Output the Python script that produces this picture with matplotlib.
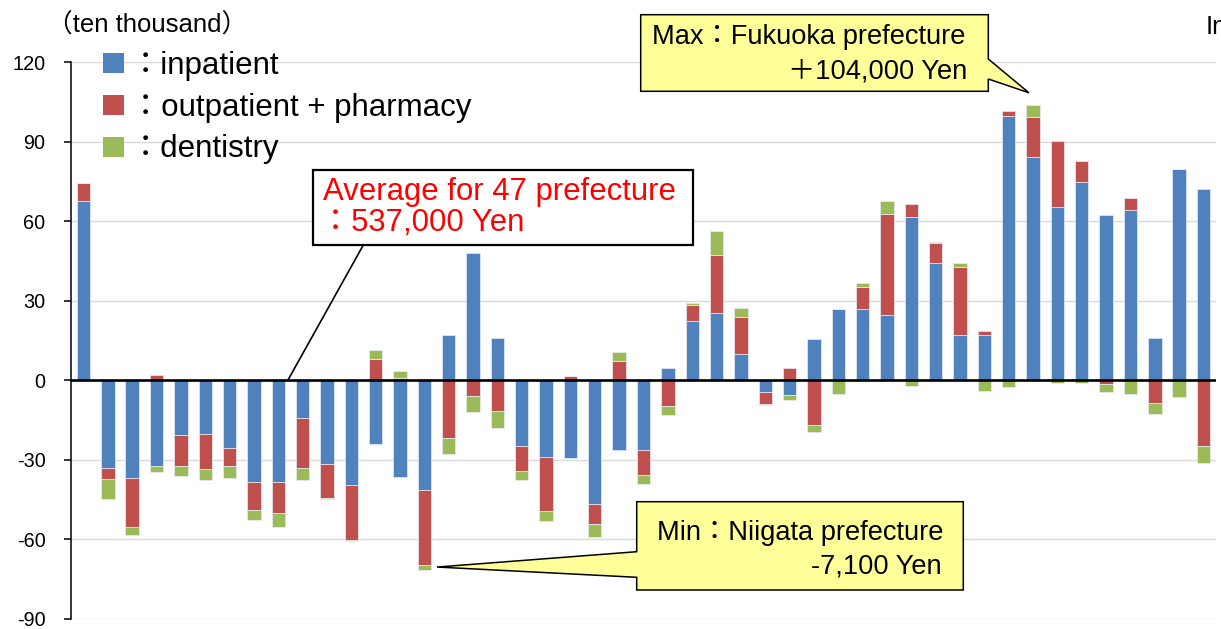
import numpy as np
import matplotlib
matplotlib.use("Agg")
import matplotlib.pyplot as plt
from matplotlib.patches import Polygon, Rectangle

plt.rcParams["font.family"] = ["Liberation Sans", "Noto Sans CJK JP"]
plt.rcParams["axes.unicode_minus"] = False

# ---------------- data (ten thousand yen) ----------------
prefectures = ["Hokkaido", "Aomori", "Iwate", "Miyagi", "Akita", "Yamagata", "Fukushima",
               "Ibaraki", "Tochigi", "Gunma", "Saitama", "Chiba", "Tokyo", "Kanagawa",
               "Niigata", "Toyama", "Ishikawa", "Fukui", "Yamanashi", "Nagano", "Gifu",
               "Shizuoka", "Aichi", "Mie", "Shiga", "Kyoto", "Osaka", "Hyogo", "Nara",
               "Wakayama", "Tottori", "Shimane", "Okayama", "Hiroshima", "Yamaguchi",
               "Tokushima", "Kagawa", "Ehime", "Kochi", "Fukuoka", "Saga", "Nagasaki",
               "Kumamoto", "Oita", "Miyazaki", "Kagoshima", "Okinawa"]

inpatient = [67.7, -32.9, -36.7, -32.1, -20.5, -20.1, -25.4, -38.5, -38.2, -14.1,
             -31.4, -39.6, -23.9, -36.3, -41.5, 17.0, 47.9, 16.0, -24.8, -28.8,
             -29.2, -46.5, -26.4, -26.2, 4.8, 22.4, 25.3, 9.8, -4.2, -5.4,
             15.6, 26.8, 26.9, 24.8, 61.5, 44.2, 17.1, 17.2, 99.7, 84.4,
             65.5, 75.0, 62.3, 64.4, 16.1, 79.9, 72.2]
outpatient = [6.6, -4.4, -18.6, 2.1, -11.6, -13.5, -6.7, -10.2, -12.0, -19.1,
              -12.9, -20.5, 7.9, 1.0, -28.3, -21.9, -6.0, -11.7, -9.5, -20.3,
              1.5, -7.7, 7.3, -9.6, -9.6, 6.2, 22.0, 14.1, -4.6, 4.8,
              -17.0, 0.0, 8.3, 38.1, 5.2, 7.6, 25.7, 1.5, 2.0, 15.0,
              24.8, 7.9, -1.4, 4.5, -8.7, 0.0, -24.7]
dentistry = [0.0, -7.4, -3.0, -2.6, -4.0, -3.8, -4.6, -3.8, -5.0, -4.2,
             -0.3, -0.5, 3.4, 2.4, -1.6, -6.0, -6.0, -6.2, -3.3, -4.1,
             0.0, -4.7, 3.3, -3.2, -3.5, 0.5, 9.2, 3.3, -0.5, -1.9,
             -2.5, -5.0, 1.7, 4.9, -2.0, 0.5, 1.4, -3.9, -2.5, 4.4,
             -0.9, -1.0, -3.1, -5.2, -3.8, -6.3, -6.6]

series_labels = ["：inpatient", "：outpatient + pharmacy", "：dentistry"]
series_colors = ["#4F81BD", "#C0504D", "#9BBB59"]
y_ticks = [-90, -60, -30, 0, 30, 60, 90, 120]

# ---------------- figure ----------------
W, H = 1221, 629
fig = plt.figure(figsize=(W / 100, H / 100), dpi=100)
ax = fig.add_axes([71.3 / W, 1 - 619 / H, (1215.7 - 71.3) / W, (619 - 62.3) / H])

x = np.arange(len(prefectures))
pos_bottom = np.zeros(len(x))
neg_bottom = np.zeros(len(x))
for vals, color in zip([inpatient, outpatient, dentistry], series_colors):
    v = np.asarray(vals, dtype=float)
    bottom = np.where(v >= 0, pos_bottom, neg_bottom)
    ax.bar(x, v, 0.55, bottom=bottom, color=color, edgecolor="#e8eef6",
           linewidth=0.5, zorder=2)
    pos_bottom += np.clip(v, 0, None)
    neg_bottom += np.clip(v, None, 0)

ax.axhline(0, color="black", lw=1.9, zorder=3)
ax.set_xlim(-0.5, len(x) - 0.5)
ax.set_ylim(y_ticks[0], y_ticks[-1])
ax.set_yticks(y_ticks)
ax.set_xticks([])
ax.yaxis.grid(True, color="#d9d9d9", lw=1.0)
ax.set_axisbelow(True)
for s in ["top", "right", "bottom"]:
    ax.spines[s].set_visible(False)
ax.spines["left"].set_linewidth(1.1)
ax.tick_params(axis="y", direction="out", length=5, width=1.1, labelsize=14.3, pad=13.5)

# ---------------- overlay (pixel coordinates, origin top-left) ----------------
ov = fig.add_axes([0, 0, 1, 1], zorder=5)
ov.set_xlim(0, W)
ov.set_ylim(H, 0)
ov.axis("off")
ov.patch.set_alpha(0)


def to_px(xd, yd):
    px, py = ax.transData.transform((xd, yd))
    return px, H - py


# legend
for i, (lab, col) in enumerate(zip(series_labels, series_colors)):
    top = 53.3 + i * 41.7
    ov.add_patch(Rectangle((103, top), 21, 20, facecolor=col, edgecolor="none"))
    ov.text(130, top + 20.7, lab, fontsize=22.5, va="baseline", ha="left")

ov.text(47, 33, "（ten thousand）", fontsize=18.5, va="baseline", ha="left")
ov.text(1206, 34, "In", fontsize=18.5, va="baseline", ha="left")

# average callout
ov.plot([365, 288], [242, 380], color="black", lw=1.2, zorder=1)
ov.add_patch(Rectangle((313.3, 170), 380, 74.7, facecolor="white",
                       edgecolor="black", lw=1.6, zorder=2))
ov.text(323, 200, "Average for 47 prefecture", color="#FF0000", fontsize=22.4,
        va="baseline", ha="left", zorder=3)
ov.text(320, 231, "：537,000 Yen", color="#FF0000", fontsize=22.4,
        va="baseline", ha="left", zorder=3)

totals_pos = pos_bottom
totals_neg = neg_bottom
imax = int(np.argmax(totals_pos))
imin = int(np.argmin(totals_neg))

# max callout
tx, ty = to_px(imax - 0.17, totals_pos[imax] + 4.7)
L, T, R, B = 640.7, 14.7, 988.3, 91.3
ov.add_patch(Polygon([(L, T), (R, T), (R, 59), (tx, ty), (R, 79), (R, B), (L, B)],
                     closed=True, facecolor="#FFFF99", edgecolor="black", lw=1.1, zorder=2))
ov.text(652, 44.3, "Max：Fukuoka prefecture", fontsize=19.6, va="baseline", ha="left", zorder=3)
ov.text(967, 78.3, "＋104,000 Yen", fontsize=19.6, va="baseline", ha="right", zorder=3)

# min callout
tx, ty = to_px(imin + 0.52, totals_neg[imin] + 1.0)
L, T, R, B = 636.7, 501.7, 963.3, 590
ov.add_patch(Polygon([(L, T), (R, T), (R, B), (L, B), (L, 577.3), (tx, ty), (L, 551.7)],
                     closed=True, facecolor="#FFFF99", edgecolor="black", lw=1.1, zorder=2))
ov.text(656.7, 540, "Min：Niigata prefecture", fontsize=19.6, va="baseline", ha="left", zorder=3)
ov.text(941.7, 573.3, "-7,100 Yen", fontsize=19.6, va="baseline", ha="right", zorder=3)

fig.savefig("out.png", dpi=100)
